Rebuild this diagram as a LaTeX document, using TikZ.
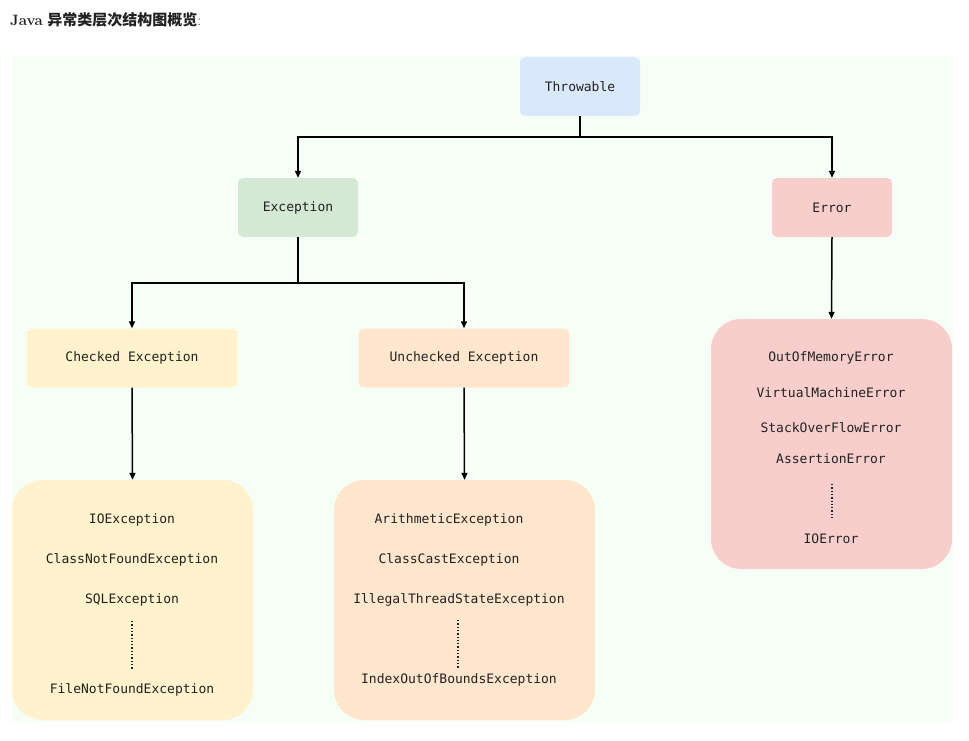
\documentclass[tikz,border=0pt]{standalone}
\usepackage{fontspec}
\setmonofont{DejaVu Sans Mono}
\newfontfamily\cjk{Noto Sans CJK SC}
\usetikzlibrary{arrows.meta}
\definecolor{bgc}{HTML}{F5FFF6}
\definecolor{cthr}{HTML}{DAE8FC}
\definecolor{cexc}{HTML}{D5E8D4}
\definecolor{cerr}{HTML}{F8CECC}
\definecolor{cchk}{HTML}{FFF2CC}
\definecolor{cunc}{HTML}{FFE6CC}
\definecolor{tx}{HTML}{222222}
\begin{document}
\begin{tikzpicture}[x=1pt,y=-1pt,
  box/.style={draw=none,rounded corners=5pt,minimum width=120pt,minimum height=59pt,font=\ttfamily\fontsize{13}{15}\selectfont,text=tx},
  wide/.style={box,minimum width=211pt},
  big/.style={draw=none,rounded corners=30pt},
  item/.style={font=\ttfamily\fontsize{13}{15}\selectfont,text=tx,inner sep=1pt},
  arr/.style={-{Triangle[length=7pt,width=6pt]},line width=1.5pt},
  ln/.style={line width=1.5pt},
  dots/.style={dotted,line width=1.3pt,tx}]
\useasboundingbox (0,0) rectangle (969,741);
\fill[white] (0,0) rectangle (969,741);
\node[anchor=west,inner sep=0pt,text=tx] (title) at (10,20) {\fontsize{15}{18}\selectfont\textbf{Java} {\cjk\bfseries 异常类层次结构图概览}:};
\fill[bgc] (12,56) rectangle (953,722);
\node[box,fill=cthr] (thr) at (580,86.5) {Throwable};
\node[box,fill=cexc] (exc) at (298,207.5) {Exception};
\node[box,fill=cerr] (err) at (832,207.5) {Error};
\node[wide,fill=cchk] (chk) at (132,358) {Checked Exception};
\node[wide,fill=cunc] (unc) at (464,358) {Unchecked Exception};
\node[big,fill=cerr,minimum width=241pt,minimum height=250pt] (errl) at (831.5,444) {};
\node[big,fill=cchk,minimum width=241pt,minimum height=240pt] (chkl) at (132.5,600) {};
\node[big,fill=cunc,minimum width=261pt,minimum height=240pt] (uncl) at (464.5,600) {};
% connectors
\draw[ln] (thr.south) -- ++(0,21) coordinate (j1);
\draw[arr] (j1) -| (exc.north);
\draw[arr] (j1) -| (err.north);
\draw[ln] (exc.south) -- ++(0,46) coordinate (j2);
\draw[arr] (j2) -| (chk.north);
\draw[arr] (j2) -| (unc.north);
\draw[arr] (chk.south) -- (chkl.north);
\draw[arr] (unc.south) -- (uncl.north);
\draw[arr] (err.south) -- (errl.north);
% checked list
\node[item] (c1) at (132,520) {IOException};
\node[item] (c2) at (132,560) {ClassNotFoundException};
\node[item] (c3) at (132,600) {SQLException};
\node[item] (c4) at (132,690) {FileNotFoundException};
\draw[dots] (132,621) -- (132,670);
% unchecked list
\node[item] (u1) at (449,520) {ArithmeticException};
\node[item] (u2) at (449,560) {ClassCastException};
\node[item] (u3) at (459,600) {IllegalThreadStateException};
\node[item] (u4) at (459,680) {IndexOutOfBoundsException};
\draw[dots] (458,620) -- (458,668);
% error list
\node[item] (e1) at (831,358) {OutOfMemoryError};
\node[item] (e2) at (831,393) {VirtualMachineError};
\node[item] (e3) at (831,428) {StackOverFlowError};
\node[item] (e4) at (831,459) {AssertionError};
\node[item] (e5) at (831,539) {IOError};
\draw[dots] (832,484) -- (832,520);
\end{tikzpicture}
\end{document}
